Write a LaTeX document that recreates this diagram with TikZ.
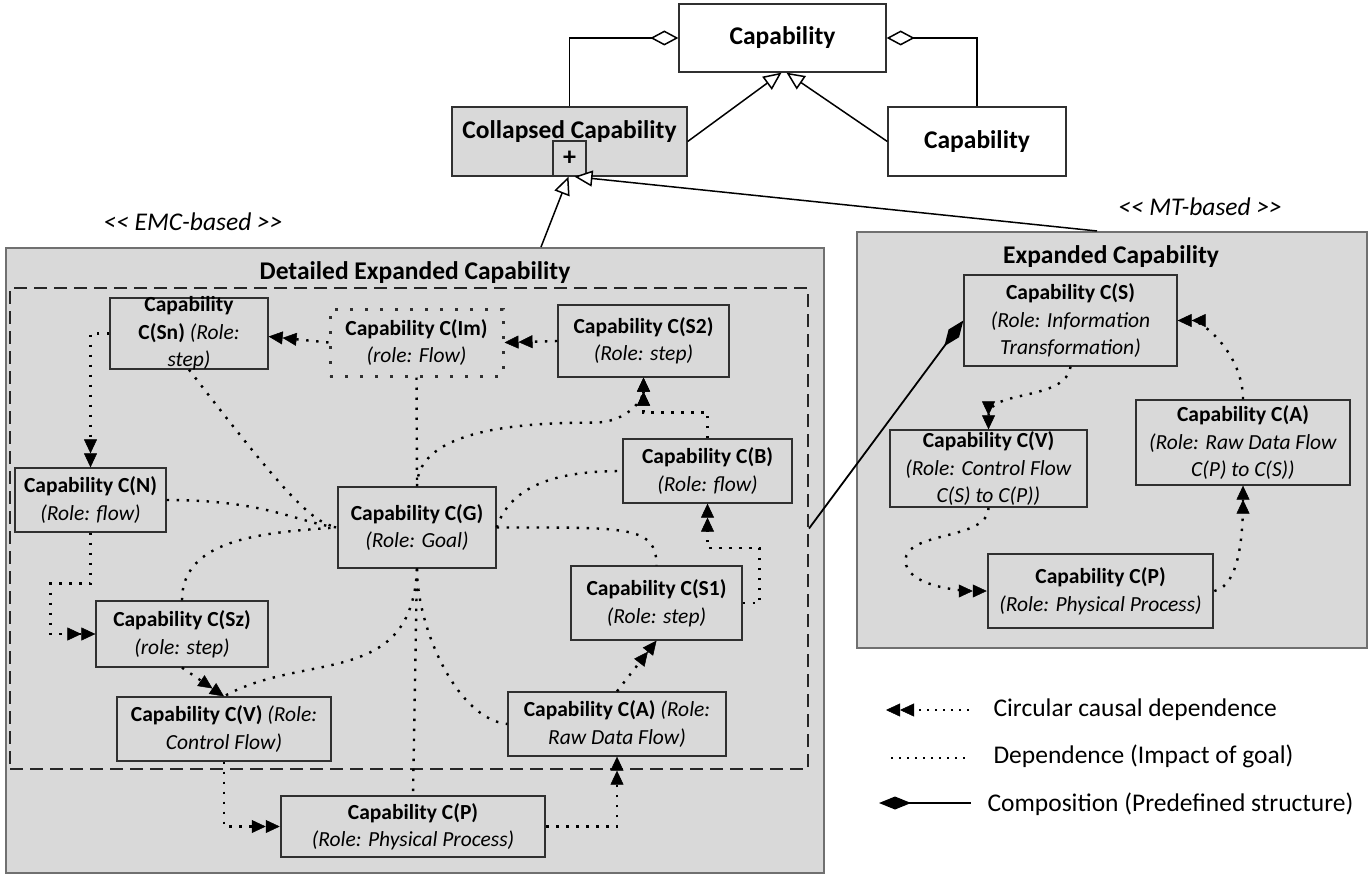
\documentclass[tikz,border=0pt]{standalone}
\usepackage{fontspec}
\setmainfont{Carlito}
\usepackage{tikz}
\usetikzlibrary{arrows.meta}
\definecolor{boxgray}{HTML}{D9D9D9}
\definecolor{framegray}{HTML}{707070}
\definecolor{ink}{HTML}{303030}
\newcommand\capfont{\fontsize{21.5}{27.5}\selectfont}
\newcommand\bigfont{\fontsize{25.5}{30}\selectfont}
\tikzset{
  capbox/.style={draw=ink, line width=1.3pt, fill=boxgray, align=center,
    inner sep=2pt, font=\capfont},
  umlbox/.style={draw=ink, line width=1.3pt, fill=white, inner sep=2pt,
    font=\bigfont\bfseries},
  capframe/.style={draw=framegray, line width=2pt, fill=boxgray},
  dep/.style={line width=2.4pt, dash pattern=on 2.4pt off 7.6pt},
  causal/.style={dep, -{Triangle[length=14pt,width=13pt,line width=0.5pt]
    Triangle[length=14pt,width=13pt,line width=0.5pt]}},
  gen/.style={line width=1.5pt, -{Triangle[open,length=18pt,width=16pt,fill=white]}},
  agg/.style={line width=1.5pt, {Diamond[open,length=28pt,width=15pt,fill=white]}-},
  comp/.style={line width=1.8pt, {Diamond[length=32pt,width=13pt]}-},
}

\begin{document}
\begin{tikzpicture}[x=1pt,y=-1pt]

\path[use as bounding box, fill=white] (0,0) rectangle (1372,880); %% page

%% classes
\node[umlbox, minimum width=207pt, minimum height=68pt] (cap) at (782.5,38) {Capability};
\node[umlbox, fill=boxgray, minimum width=235pt, minimum height=69pt,
  label={[name=colltext, font=\bigfont\bfseries, yshift=10pt]center:Collapsed Capability}]
  (coll) at (569.5,141.5) {};
\node[umlbox, fill=boxgray, minimum width=33pt, minimum height=35pt, inner sep=0pt,
  font=\fontsize{26}{26}\selectfont\bfseries] (plus) at (569.5,158.5) {+};
\node[umlbox, minimum width=178pt, minimum height=69pt] (capr) at (977,141.5) {Capability};

\node[font=\bigfont\itshape] (emc) at (193,222) {<\kern0pt< EMC-based >\kern0pt>};
\node[font=\bigfont\itshape] (mt) at (1200,207) {<\kern0pt< MT-based >\kern0pt>};

%% frames
\node[capframe, minimum width=818pt, minimum height=625pt] (det) at (415,560.5) {};
\node[font=\bigfont\bfseries] (dettitle) at (415,273) {Detailed Expanded Capability};
\node[draw=black!85, line width=2pt, dash pattern=on 13pt off 7pt,
  minimum width=798pt, minimum height=481pt] (detframe) at (409,528.5) {};
\node[capframe, minimum width=510pt, minimum height=416pt] (exp) at (1112,440) {};
\node[font=\bigfont\bfseries] (exptitle) at (1111,257) {Expanded Capability};

%% detailed capabilities
\node[capbox, minimum width=158pt, minimum height=71pt, inner ysep=-3pt] (sn) at (189,333.5)
  {\textbf{Capability}\\\textbf{C(Sn)} \textit{(Role:}\\\textit{step)}};
\node[capbox, line width=3pt, dash pattern=on 3pt off 12pt, minimum width=173pt,
  minimum height=67pt] (im) at (416.5,342.5) {\textbf{Capability C(Im)}\\\textit{(role: Flow)}};
\node[capbox, minimum width=171pt, minimum height=72pt] (s2) at (643.5,341)
  {\textbf{Capability C(S2)}\\\textit{(Role: step)}};
\node[capbox, minimum width=151pt, minimum height=64pt] (n) at (90.5,500)
  {\textbf{Capability C(N)}\\\textit{(Role: flow)}};
\node[capbox, minimum width=158pt, minimum height=81pt] (g) at (417,527.5)
  {\textbf{Capability C(G)}\\\textit{(Role: Goal)}};
\node[capbox, minimum width=169pt, minimum height=64pt] (b) at (707.5,471)
  {\textbf{Capability C(B)}\\\textit{(Role: flow)}};
\node[capbox, minimum width=171pt, minimum height=74pt] (s1) at (656.5,603)
  {\textbf{Capability C(S1)}\\\textit{(Role: step)}};
\node[capbox, minimum width=172pt, minimum height=66pt] (sz) at (182,634)
  {\textbf{Capability C(Sz)}\\\textit{(role: step)}};
\node[capbox, minimum width=214pt, minimum height=64pt] (v) at (224,729)
  {\textbf{Capability C(V)} \textit{(Role:}\\\textit{Control Flow)}};
\node[capbox, minimum width=218pt, minimum height=64pt] (a) at (617,724)
  {\textbf{Capability C(A)} \textit{(Role:}\\\textit{Raw Data Flow)}};
\node[capbox, line width=2.5pt, minimum width=264pt, minimum height=61pt] (p) at (413,826.5)
  {\textbf{Capability C(P)}\\\textit{(Role: Physical Process)}};

%% expanded capabilities
\node[capbox, minimum width=213pt, minimum height=91pt] (es) at (1070.5,320.5)
  {\textbf{Capability C(S)}\\\textit{(Role: Information}\\\textit{Transformation)}};
\node[capbox, minimum width=197pt, minimum height=77pt, inner ysep=-1pt] (ev) at (988.5,468.5)
  {\textbf{Capability C(V)}\\\textit{(Role: Control Flow}\\\textit{C(S) to C(P))}};
\node[capbox, minimum width=214pt, minimum height=85pt] (ea) at (1243,442.5)
  {\textbf{Capability C(A)}\\\textit{(Role: Raw Data Flow}\\\textit{C(P) to C(S))}};
\node[capbox, line width=2.5pt, minimum width=225pt, minimum height=74pt] (ep) at (1100.5,591)
  {\textbf{Capability C(P)}\\\textit{(Role: Physical Process)}};

%% uml links
\draw[agg] (cap.west) -| (coll.north);
\draw[agg] (cap.east) -| (capr.north);
\draw[gen] (coll.east) -- ([xshift=-1pt]cap.south);
\draw[gen] (capr.west) -- ([xshift=4pt]cap.south);
\draw[gen] ([xshift=126pt]det.north) -- ([xshift=-1pt]plus.south);
\draw[gen] ([xshift=-15pt]exp.north) -- ([xshift=5pt]plus.south);
\draw[comp] (es.west) -- (detframe.east);

%% detailed links
\draw[causal] (sn.west) -| (n.north);
\draw[causal] (im.west) -- ([yshift=-3pt]sn.east);
\draw[causal] (s2.west) -- (im.east);
\draw[dep] (sn.south) .. controls +(100,130) and +(-25,-5) .. (g.west);
\draw[dep] (n.east) .. controls +(100,0) and +(-40,-5) .. (g.west);
\draw[dep] (sz.north) .. controls +(0,-60) and +(-80,5) .. (g.west);
\draw[dep] (im.south) -- (g.north);
\draw[causal] (g.north) .. controls +(0,-60) and +(-60,0) .. ([xshift=-50pt,yshift=-45pt]s2.south)
  .. controls +(35,0) and +(0,20) .. (s2.south);
\draw[causal] (b.north) -- ++(0,-26) -| (s2.south);
\draw[dep] (g.east) .. controls +(15,-45) and +(-60,0) .. (b.west);
\draw[dep] (g.east) .. controls +(130,0) and +(0,-40) .. (s1.north);
\draw[causal] (s1.east) -- ++(17,0) -- ++(0,-55) -| (b.south);
\draw[causal] (a.north) -- (s1.south);
\draw[dep] (g.south) .. controls +(0,60) and +(-50,-5) .. (a.west);
\draw[dep] (g.south) -- (p.north);
\draw[dep] (g.south) .. controls +(-5,120) and +(80,-45) .. (v.north);
\draw[causal] (n.south) -- ++(0,51) -- ++(-40,0) |- (sz.west);
\draw[causal] (sz.south) -- (v.north);
\draw[causal] (v.south) |- (p.west);
\draw[causal] (p.east) -| (a.south);

%% expanded links
\draw[causal] (es.south) .. controls +(-5,35) and +(0,-40) .. (ev.north);
\draw[causal] (ev.south) .. controls +(0,33) and +(0,-30) .. ([xshift=-83pt,yshift=-53pt]ev.south)
  .. controls +(0,25) and +(-28,0) .. (ep.west);
\draw[causal] (ep.east) .. controls +(25,-5) and +(0,50) .. (ea.south);
\draw[causal] (ea.north) .. controls +(0,-45) and +(25,0) .. (es.east);

%% legend
\coordinate (lg1a) at (886,710); \coordinate (lg1b) at (969,710);
\coordinate (lg2a) at (891,758); \coordinate (lg2b) at (969,758);
\coordinate (lg3a) at (879,803); \coordinate (lg3b) at (971,803);
\draw[causal, line width=1.6pt, dash pattern=on 1.6pt off 6.4pt] (lg1b) -- (lg1a);
\draw[dep, line width=1.6pt, dash pattern=on 1.6pt off 6.4pt] (lg2a) -- (lg2b);
\draw[comp] (lg3a) -- (lg3b);
\node[anchor=west, font=\bigfont] (lg1) at (990,710) {Circular causal dependence};
\node[anchor=west, font=\bigfont] (lg2) at (990,756) {Dependence (Impact of goal)};
\node[anchor=west, font=\bigfont] (lg3) at (984,804) {Composition (Predefined structure)};

\end{tikzpicture}
\end{document}
